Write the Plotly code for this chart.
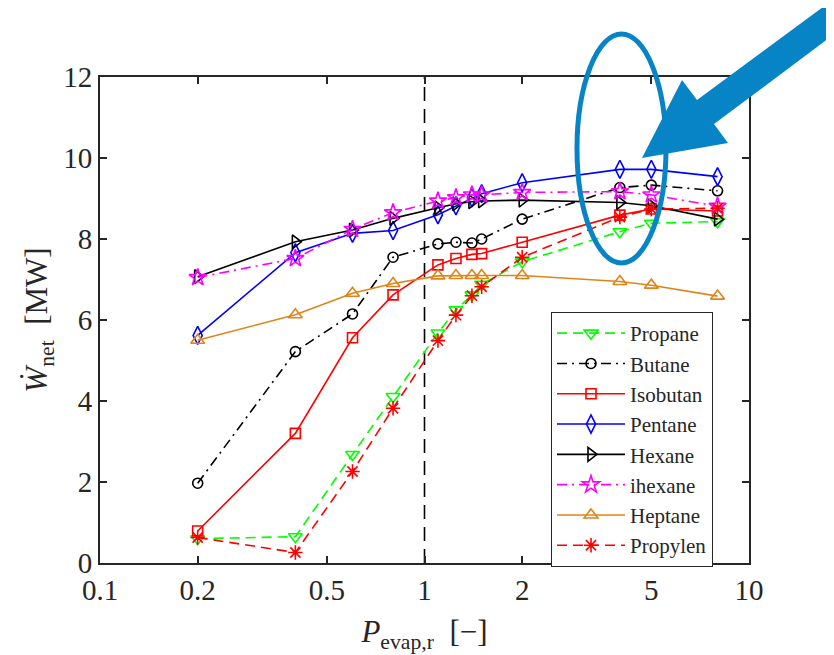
import plotly.graph_objects as go

# ---------------- data ----------------
p_evap = [0.2, 0.4, 0.6, 0.8, 1.1, 1.25, 1.4, 1.5, 2, 4, 5, 8]

propane  = [0.60, 0.65, 2.68, 4.11, 5.68, 6.25, 6.62, 6.88, 7.44, 8.18, 8.39, 8.43]
butane   = [1.97, 5.22, 6.15, 7.55, 7.88, 7.92, 7.90, 8.00, 8.49, 9.27, 9.33, 9.19]
isobutan = [0.79, 3.20, 5.56, 6.62, 7.36, 7.52, 7.62, 7.64, 7.92, 8.59, 8.74, 8.69]
pentane  = [5.62, 7.66, 8.14, 8.21, 8.60, 8.82, 9.02, 9.12, 9.39, 9.72, 9.72, 9.54]
hexane   = [7.07, 7.93, 8.22, 8.51, 8.77, 8.87, 8.92, 8.94, 8.96, 8.90, 8.82, 8.49]
ihexane  = [7.05, 7.52, 8.24, 8.65, 8.94, 9.02, 9.09, 9.09, 9.15, 9.17, 9.09, 8.81]
heptane  = [5.50, 6.13, 6.66, 6.90, 7.09, 7.10, 7.10, 7.10, 7.10, 6.95, 6.86, 6.59]
propylen = [0.63, 0.26, 2.26, 3.82, 5.49, 6.12, 6.60, 6.82, 7.55, 8.54, 8.74, 8.76]

x_tickvals = [0.1, 0.2, 0.5, 1, 2, 5, 10]
x_ticktext = ["0.1", "0.2", "0.5", "1", "2", "5", "10"]
y_tickvals = [0, 2, 4, 6, 8, 10, 12]
ref_line_x = [1, 1]
ref_line_y = [0, 12]

series = [
    ("Propane",  propane,  "#00FF00", "10px,6px",          "triangle-down-open", 12),
    ("Butane",   butane,   "#000000", "10px,5px,2px,5px",  "circle-open",        10),
    ("Isobutan", isobutan, "#FF0000", "solid",             "square-open",        10),
    ("Pentane",  pentane,  "#0000FF", "solid",             "diamond-tall-open",  13),
    ("Hexane",   hexane,   "#000000", "solid",             "triangle-right-open", 12),
    ("ihexane",  ihexane,  "#FF00FF", "10px,5px,2px,5px",  "star-open",          13),
    ("Heptane",  heptane,  "#DF8418", "solid",             "triangle-up-open",   12),
    ("Propylen", propylen, "#FF0000", "10px,6px",          "asterisk-open",      12),
]

FONT = "Liberation Serif"
AX = "#262626"

fig = go.Figure()

fig.add_trace(go.Scatter(
    x=ref_line_x, y=ref_line_y, mode="lines", showlegend=False, hoverinfo="skip",
    line=dict(color="#000000", width=1.6, dash="14px,8px"),
))

for name, vals, color, dash, sym, size in series:
    fig.add_trace(go.Scatter(
        x=p_evap, y=vals, name=name, mode="lines+markers",
        line=dict(color=color, width=1.6, dash=dash),
        marker=dict(symbol=sym, size=size, color=color,
                    line=dict(color=color, width=1.6)),
    ))

# page body has an 8px default margin: the figure starts at (8, 8)
OFF = 8
W, H = 834 - OFF, 655 - OFF
# plot-area edges in page pixels
L, R, T, B = 100, 749, 77, 563

def px(x):
    return (x - L) / (R - L)

def py(y):
    return (B - y) / (B - T)

BLUE = "#0784C6"
arrow_pts = [(642, 158), (682, 80), (697, 100), (880, -35),
             (880, 0), (714, 124), (728, 143)]
path = "M " + " L ".join(f"{px(a):.4f},{py(b):.4f}" for a, b in arrow_pts) + " Z"

shapes = [
    dict(type="circle", xref="paper", yref="paper",
         x0=px(577), x1=px(666), y0=py(263), y1=py(34),
         line=dict(color=BLUE, width=5), layer="above"),
    dict(type="path", xref="paper", yref="paper", path=path,
         fillcolor=BLUE, line=dict(color=BLUE, width=0), layer="above"),
]

fig.update_layout(
    width=W, height=H,
    margin=dict(l=L - OFF, r=OFF + W - R, t=T - OFF, b=OFF + H - B, autoexpand=False),
    paper_bgcolor="white", plot_bgcolor="white",
    font=dict(family=FONT, color=AX, size=29),
    shapes=shapes,
    legend=dict(x=px(551), y=py(312), xanchor="left", yanchor="top",
                bgcolor="white", bordercolor=AX, borderwidth=1,
                font=dict(family=FONT, size=21, color=AX),
                itemwidth=68, tracegroupgap=0),
    xaxis=dict(
        type="log", range=[-1, 1],
        tickvals=x_tickvals, ticktext=x_ticktext,
        ticks="inside", ticklen=7, tickwidth=1.5, tickcolor=AX,
        showline=True, linecolor=AX, linewidth=2, mirror="ticks",
        showgrid=False, zeroline=False,
        tickfont=dict(family=FONT, size=29, color=AX),
        title=dict(text="<i>P</i><sub>evap,r</sub>  [−]",
                   font=dict(family=FONT, size=31, color=AX), standoff=16),
    ),
    yaxis=dict(
        range=[0, 12], tickvals=y_tickvals,
        ticks="inside", ticklen=7, tickwidth=1.5, tickcolor=AX,
        showline=True, linecolor=AX, linewidth=2, mirror="ticks",
        showgrid=False, zeroline=False,
        tickfont=dict(family=FONT, size=29, color=AX),
        title=dict(text="<i>Ẇ</i><sub>net</sub>  [MW]",
                   font=dict(family=FONT, size=31, color=AX), standoff=6),
    ),
)

fig.write_html("out.html")
